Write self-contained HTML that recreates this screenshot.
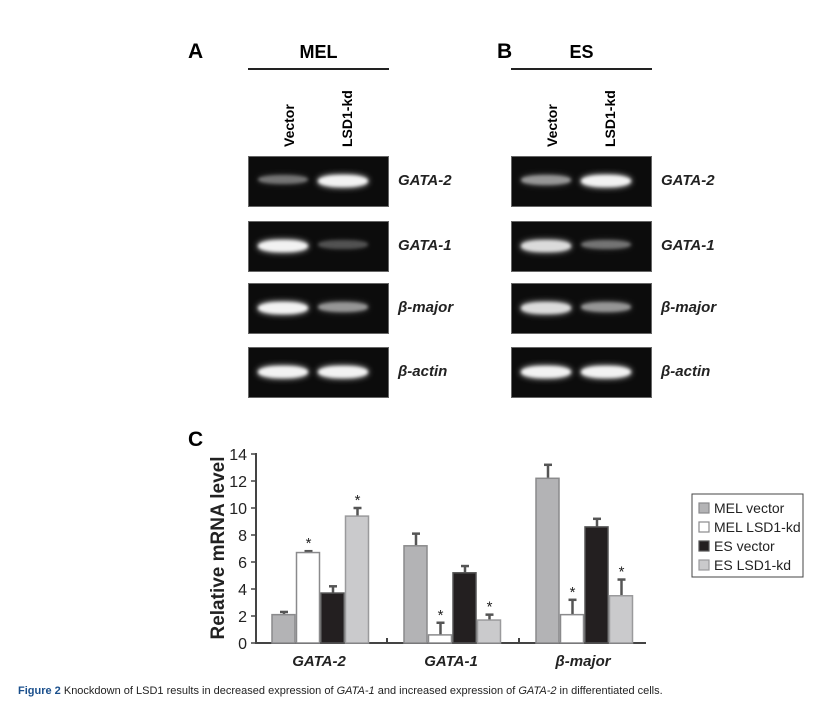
<!DOCTYPE html>
<html><head><meta charset="utf-8"><style>
body{margin:0;background:#fff;width:837px;height:704px;overflow:hidden;font-family:"Liberation Sans",Arial,sans-serif;position:relative}
.abs{position:absolute}
.gel{position:absolute;background:#0c0c0c;border:1px solid #666;overflow:hidden}
.band{position:absolute;border-radius:45%;background:#fff;filter:blur(1.5px)}
.lab{position:absolute;font-weight:bold;font-style:italic;font-size:15px;color:#222}
.vert{position:absolute;font-weight:bold;font-size:14px;transform:rotate(-90deg);transform-origin:left top;white-space:nowrap}
</style></head><body>
<div class="abs" style="left:188px;top:40px;font-size:21px;font-weight:bold">A</div>
<div class="abs" style="left:248px;width:141px;top:42px;text-align:center;font-size:18px;font-weight:bold">MEL</div>
<div class="abs" style="left:248px;top:68px;width:141px;height:2px;background:#222"></div>
<div class="abs" style="left:497px;top:40px;font-size:21px;font-weight:bold">B</div>
<div class="abs" style="left:511px;width:141px;top:42px;text-align:center;font-size:18px;font-weight:bold">ES</div>
<div class="abs" style="left:511px;top:68px;width:141px;height:2px;background:#222"></div>
<div id="gels"></div>

<svg class="abs" style="left:0;top:0" width="837" height="704" id="chart"></svg>
<div class="abs" style="left:188px;top:428px;font-size:21px;font-weight:bold">C</div>
<div class="abs" style="left:18px;top:685px;font-size:11px;color:#222"><b style="color:#1a4f8c">Figure 2</b> Knockdown of LSD1 results in decreased expression of <i>GATA-1</i> and increased expression of <i>GATA-2</i> in differentiated cells.</div>

<script>
const genes=["GATA-2","GATA-1","β-major"];
const gelTops=[156,221,283,347];
const gelLabels=["GATA-2","GATA-1","β-major","β-actin"];
const melBands=[[0.45,1],[1,0.3],[1,0.6],[1,1]];
const esBands=[[0.6,1],[0.9,0.45],[0.9,0.6],[1,1]];
const g=document.getElementById('gels');
function panel(x0,bands,names,prefix){
  const v1=document.createElement('div');v1.className='vert';v1.textContent='Vector';
  v1.style.left=(x0+33)+'px';v1.style.top='147px';
  
  g.appendChild(v1);
  const v2=document.createElement('div');v2.className='vert';v2.textContent='LSD1-kd';
  v2.style.left=(x0+91)+'px';v2.style.top='147px';
  
  g.appendChild(v2);
  gelTops.forEach((t,i)=>{
    const d=document.createElement('div');d.className='gel';
    d.style.left=x0+'px';d.style.top=t+'px';d.style.width='139px';d.style.height='49px';
    
    
    bands[i].forEach((a,j)=>{
      const b=document.createElement('div');b.className='band';
      b.style.left=(9+j*60)+'px';b.style.top='18px';b.style.width='50px';b.style.height=(7+5*a)+'px';
      b.style.opacity=a*0.95;b.style.boxShadow='0 0 6px rgba(255,255,255,'+a+')';
      
      
      d.appendChild(b);
    });
    g.appendChild(d);
    const l=document.createElement('div');l.className='lab';l.textContent=names[i];
    l.style.left=(x0+150)+'px';l.style.top=(t+16)+'px';
    
    
    g.appendChild(l);
  });
}
panel(248,melBands,gelLabels,'mel');
panel(511,esBands,gelLabels,'es');

// chart data
const series=["MEL vector","MEL LSD1-kd","ES vector","ES LSD1-kd"];
const melVector=[2.1,7.2,12.2];
const melKd=[6.7,0.6,2.1];
const esVector=[3.7,5.2,8.6];
const esKd=[9.4,1.7,3.5];
const melVectorErr=[0.2,0.9,1.0];
const melKdErr=[0.1,0.9,1.1];
const esVectorErr=[0.5,0.5,0.6];
const esKdErr=[0.6,0.4,1.2];
const star=[[false,true,false,true],[false,true,false,true],[false,true,false,true]];
const yTicks=[0,2,4,6,8,10,12,14];
const fills=["#b3b3b5","#ffffff","#231f20","#cacacc"];
const strokes=["#8a8a8c","#8a8a8c","#555","#9a9a9c"];

const svg=document.getElementById('chart');
const NS='http://www.w3.org/2000/svg';
const y=v=>643-v*13.5;
const x=(gi,si)=>272+gi*132+si*24.5;
function el(tag,attrs,name){const e=document.createElementNS(NS,tag);for(const k in attrs)e.setAttribute(k,attrs[k]);
  
  
  svg.appendChild(e);return e;}
el('line',{x1:256,y1:453,x2:256,y2:644,stroke:'#444','stroke-width':2},'y-axis');
el('line',{x1:255,y1:643,x2:646,y2:643,stroke:'#444','stroke-width':2},'x-axis');
[387,519].forEach(v=>el('line',{x1:v,y1:638,x2:v,y2:643,stroke:'#444','stroke-width':2},'x-group-tick'));
yTicks.forEach(t=>{
  el('line',{x1:251,y1:y(t),x2:256,y2:y(t),stroke:'#444','stroke-width':1.5},'y-tick');
  const tx=el('text',{x:247,y:y(t)+6,'text-anchor':'end','font-size':16,fill:'#222','font-family':'Liberation Sans'},'y-tick-label');tx.textContent=t;
});
const yt=el('text',{x:0,y:0,transform:'translate(224,548) rotate(-90)','text-anchor':'middle','font-size':19,'font-weight':'bold',fill:'#222','font-family':'Liberation Sans'},'y-axis-title');yt.textContent='Relative mRNA level';
const vals=[melVector,melKd,esVector,esKd],errs=[melVectorErr,melKdErr,esVectorErr,esKdErr];
genes.forEach((gn,gi)=>{
  vals.forEach((arr,si)=>{
    const bx=x(gi,si),v=arr[gi],e=errs[si][gi],cx=bx+12;
    el('line',{x1:cx,y1:y(v),x2:cx,y2:y(v+e),stroke:'#555','stroke-width':2.5},'error-bar');
    el('line',{x1:cx-4,y1:y(v+e),x2:cx+4,y2:y(v+e),stroke:'#555','stroke-width':2.5},'error-cap');
    el('rect',{x:bx,y:y(v),width:23,height:643-y(v),fill:fills[si],stroke:strokes[si],'stroke-width':1.5},'bar-'+series[si].replace(/ /g,'-').toLowerCase()+'-'+gi);
    if(star[gi][si]){const s=el('text',{x:cx,y:y(v+e)-3,'text-anchor':'middle','font-size':15,fill:'#222','font-family':'Liberation Sans'},'significance-star');s.textContent='*';}
  });
  const t=el('text',{x:x(gi,0)+47,y:666,'text-anchor':'middle','font-size':15,'font-weight':'bold','font-style':'italic',fill:'#222','font-family':'Liberation Sans'},'x-category-label');t.textContent=gn;
});
el('rect',{x:692,y:494,width:111,height:83,fill:'#fff',stroke:'#444','stroke-width':1},'legend');
series.forEach((s,i)=>{
  el('rect',{x:699,y:503+i*19,width:10,height:10,fill:fills[i],stroke:strokes[i],'stroke-width':1.2},'legend-swatch');
  const t=el('text',{x:714,y:513+i*19,'font-size':14,fill:'#222','font-family':'Liberation Sans'},'legend-entry');t.textContent=s;
});
</script>
</body></html>
